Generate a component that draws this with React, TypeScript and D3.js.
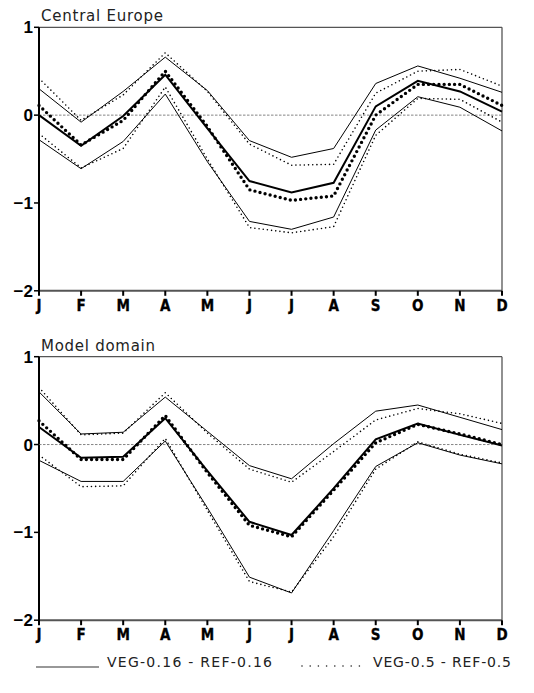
import React from "react";
import * as d3 from "d3";

const months = ["J", "F", "M", "A", "M", "J", "J", "A", "S", "O", "N", "D"];
const yTicks = [1, 0, -1, -2];

// Central Europe
const ceVeg016Upper = [0.3, -0.08, 0.27, 0.66, 0.28, -0.29, -0.48, -0.38, 0.36, 0.56, 0.42, 0.26];
const ceVeg016Mean = [0.0, -0.35, -0.01, 0.46, -0.15, -0.75, -0.88, -0.77, 0.1, 0.39, 0.27, 0.04];
const ceVeg016Lower = [-0.28, -0.61, -0.3, 0.24, -0.53, -1.21, -1.3, -1.16, -0.17, 0.21, 0.09, -0.18];
const ceVeg05Upper = [0.42, -0.06, 0.23, 0.71, 0.27, -0.33, -0.57, -0.56, 0.25, 0.5, 0.52, 0.33];
const ceVeg05Mean = [0.11, -0.34, -0.06, 0.5, -0.13, -0.85, -0.97, -0.92, 0.0, 0.35, 0.35, 0.11];
const ceVeg05Lower = [-0.21, -0.6, -0.38, 0.32, -0.5, -1.28, -1.34, -1.27, -0.23, 0.19, 0.18, -0.08];

// Model domain
const mdVeg016Upper = [0.6, 0.12, 0.14, 0.54, 0.15, -0.24, -0.39, 0.01, 0.38, 0.45, 0.31, 0.17];
const mdVeg016Mean = [0.2, -0.15, -0.14, 0.3, -0.3, -0.88, -1.03, -0.5, 0.06, 0.24, 0.11, -0.01];
const mdVeg016Lower = [-0.18, -0.42, -0.42, 0.04, -0.72, -1.51, -1.69, -0.98, -0.25, 0.02, -0.12, -0.22];
const mdVeg05Upper = [0.65, 0.11, 0.13, 0.59, 0.13, -0.28, -0.43, -0.08, 0.28, 0.41, 0.35, 0.24];
const mdVeg05Mean = [0.27, -0.17, -0.17, 0.33, -0.32, -0.92, -1.05, -0.52, 0.02, 0.23, 0.12, 0.0];
const mdVeg05Lower = [-0.12, -0.48, -0.47, 0.07, -0.75, -1.56, -1.68, -1.05, -0.28, 0.03, -0.11, -0.21];

const panels = [
  {
    title: "Central Europe",
    titleLen: 122,
    top: 27.3,
    solid: [ceVeg016Upper, ceVeg016Mean, ceVeg016Lower],
    dotted: [ceVeg05Upper, ceVeg05Mean, ceVeg05Lower],
  },
  {
    title: "Model domain",
    titleLen: 114,
    top: 356.7,
    solid: [mdVeg016Upper, mdVeg016Mean, mdVeg016Lower],
    dotted: [mdVeg05Upper, mdVeg05Mean, mdVeg05Lower],
  },
];

const W = 534;
const H = 693;
const left = 39;
const right = 502;
const plotH = 263.5;

function Panel({ p }) {
  const x = d3.scaleLinear().domain([0, 11]).range([left, right]);
  const y = d3.scaleLinear().domain([-2, 1]).range([p.top + plotH, p.top]);
  const line = d3.line<number>().x((_, i) => x(i)).y((d) => y(d));
  const bottom = p.top + plotH;

  return (
    <g>
      <text x={41} y={p.top - 6} fontFamily="DejaVu Sans" fontSize={15} fill="#222" textLength={p.titleLen}>
        {p.title}
      </text>
      {/* frame */}
      <line x1={left} x2={right} y1={p.top} y2={p.top} stroke="#555" strokeWidth={1.3} />
      <line x1={right} x2={right} y1={p.top} y2={bottom} stroke="#555" strokeWidth={1.3} />
      <line x1={left} x2={right} y1={bottom} y2={bottom} stroke="#555" strokeWidth={2} />
      <line x1={left} x2={left} y1={p.top} y2={bottom + 1} stroke="#000" strokeWidth={2} />
      {/* zero line */}
      <line x1={left} x2={right} y1={y(0)} y2={y(0)} stroke="#666" strokeWidth={0.8} strokeDasharray="2.5 1.5" />
      {/* y ticks */}
      {yTicks.map((t) => (
        <g key={t}>
          <line x1={left - 5} x2={left} y1={y(t)} y2={y(t)} stroke="#000" strokeWidth={1.5} />
          <text
            x={left - 6}
            y={y(t)}
            dy="0.36em"
            textAnchor="end"
            fontFamily="Liberation Sans"
            fontWeight="bold"
            fontSize={17}
            fill="#000"
          >
            {t < 0 ? "\u2212" + Math.abs(t) : String(t)}
          </text>
        </g>
      ))}
      {/* x ticks */}
      {months.map((m, i) => (
        <g key={i}>
          <line x1={x(i)} x2={x(i)} y1={bottom} y2={bottom + 5} stroke="#000" strokeWidth={2} />
          <text
            x={x(i)}
            y={bottom + 20}
            textAnchor="middle"
            fontFamily="DejaVu Sans"
            fontStretch="condensed"
            fontWeight="bold"
            fontSize={15}
            fill="#000"
            stroke="#000"
            strokeWidth={0.3}
          >
            {m}
          </text>
        </g>
      ))}
      {/* VEG-0.16 - REF-0.16 */}
      {p.solid.map((s, k) => (
        <path key={"s" + k} d={line(s) || ""} fill="none" stroke="#000" strokeWidth={k === 1 ? 2 : 1} />
      ))}
      {/* VEG-0.5 - REF-0.5 */}
      {p.dotted.map((s, k) => (
        <path
          key={"d" + k}
          d={line(s) || ""}
          fill="none"
          stroke="#000"
          strokeWidth={k === 1 ? 3.4 : 1.6}
          strokeLinecap="round"
          strokeDasharray={k === 1 ? "0 5.2" : "0 4.2"}
        />
      ))}
    </g>
  );
}

export default function App() {
  const ly = 662;
  return (
    <svg width={W} height={H} style={{ position: "absolute", left: 0, top: 0, background: "#fff" }}>
      <rect width={W} height={H} fill="#fff" />
      {panels.map((p) => (
        <Panel key={p.title} p={p} />
      ))}
      <line x1={36} x2={99} y1={ly + 5} y2={ly + 5} stroke="#333" strokeWidth={1.2} />
      <text x={107} y={ly + 5} fontFamily="DejaVu Sans" fontSize={14} fill="#222" textLength={165}>
        VEG-0.16 - REF-0.16
      </text>
      <line
        x1={302}
        x2={360}
        y1={ly + 4}
        y2={ly + 4}
        stroke="#222"
        strokeWidth={1.6}
        strokeLinecap="round"
        strokeDasharray="0 8.2"
      />
      <text x={373} y={ly + 5} fontFamily="DejaVu Sans" fontSize={14} fill="#222" textLength={138}>
        VEG-0.5 - REF-0.5
      </text>
    </svg>
  );
}
